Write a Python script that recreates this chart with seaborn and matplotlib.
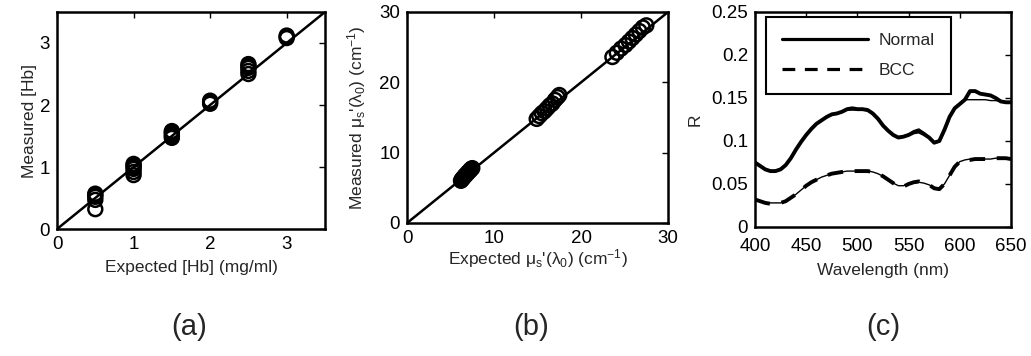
import numpy as np
import pandas as pd
import matplotlib
matplotlib.use("Agg")
import matplotlib.pyplot as plt
import seaborn as sns

# ---------------- data ----------------
# panel (a)
hb_expected = [0.5, 0.5, 0.5, 0.5, 0.5,
               1.0, 1.0, 1.0, 1.0, 1.0, 1.0,
               1.5, 1.5, 1.5, 1.5, 1.5,
               2.0, 2.0, 2.0,
               2.5, 2.5, 2.5, 2.5, 2.5,
               3.0, 3.0, 3.0]
hb_measured = [0.32, 0.47, 0.52, 0.55, 0.57,
               0.87, 0.92, 0.97, 1.00, 1.03, 1.05,
               1.47, 1.50, 1.53, 1.56, 1.58,
               2.02, 2.05, 2.07,
               2.50, 2.55, 2.60, 2.63, 2.66,
               3.08, 3.10, 3.12]
hb_line = [0.0, 3.5]

# panel (b)
mus_expected = [6.2, 6.3, 6.4, 6.5, 6.6, 6.7, 6.8, 6.9, 7.0, 7.1, 7.2, 7.3, 7.4, 7.5,
                14.9, 15.2, 15.5, 15.8, 16.1, 16.4, 16.7, 17.0, 17.3, 17.5,
                23.6, 24.1, 24.6, 25.1, 25.5, 25.9, 26.3, 26.7, 27.1, 27.5]
mus_measured = [6.0, 6.2, 6.3, 6.5, 6.6, 6.8, 6.9, 7.0, 7.2, 7.3, 7.4, 7.6, 7.7, 7.8,
                14.8, 15.2, 15.6, 15.9, 16.3, 16.7, 17.0, 17.5, 17.9, 18.2,
                23.6, 24.2, 24.8, 25.3, 25.8, 26.3, 26.8, 27.3, 27.8, 28.1]
mus_line = [0.0, 30.0]

# panel (c)
wavelength = [400, 405, 410, 415, 420, 425, 430, 435, 440, 445, 450, 455, 460, 465, 470,
              475, 480, 485, 490, 495, 500, 505, 510, 515, 520, 525, 530, 535, 540, 545,
              550, 555, 560, 565, 570, 575, 580, 585, 590, 595, 600, 605, 610, 615, 620,
              625, 630, 635, 640, 645, 650]
normal_meas = [0.075, 0.071, 0.067, 0.065, 0.065, 0.067, 0.072, 0.080, 0.090, 0.099, 0.107,
               0.114, 0.120, 0.124, 0.128, 0.131, 0.132, 0.134, 0.137, 0.138, 0.137, 0.137,
               0.136, 0.132, 0.126, 0.118, 0.112, 0.107, 0.104, 0.105, 0.107, 0.110, 0.111,
               0.108, 0.104, 0.098, 0.100, 0.113, 0.128, 0.138, 0.143, 0.148, 0.158, 0.158,
               0.155, 0.154, 0.153, 0.150, 0.146, 0.145, 0.145]
normal_fit = [0.075, 0.071, 0.067, 0.065, 0.065, 0.067, 0.072, 0.080, 0.090, 0.099, 0.107,
              0.114, 0.120, 0.124, 0.128, 0.131, 0.132, 0.134, 0.136, 0.136, 0.136, 0.136,
              0.135, 0.131, 0.125, 0.118, 0.112, 0.107, 0.105, 0.106, 0.108, 0.112, 0.114,
              0.110, 0.105, 0.099, 0.101, 0.114, 0.129, 0.139, 0.144, 0.148, 0.148, 0.148,
              0.148, 0.148, 0.147, 0.147, 0.146, 0.145, 0.145]
bcc_meas = [0.032, 0.030, 0.028, 0.027, 0.027, 0.028, 0.030, 0.034, 0.038, 0.043, 0.048,
            0.052, 0.055, 0.058, 0.060, 0.062, 0.063, 0.064, 0.065, 0.065, 0.065, 0.065,
            0.065, 0.064, 0.062, 0.059, 0.055, 0.051, 0.047, 0.047, 0.050, 0.052, 0.053,
            0.051, 0.049, 0.045, 0.044, 0.050, 0.060, 0.070, 0.076, 0.078, 0.078, 0.079,
            0.079, 0.079, 0.080, 0.080, 0.080, 0.080, 0.079]
bcc_fit = [0.032, 0.030, 0.028, 0.028, 0.028, 0.028, 0.030, 0.034, 0.038, 0.043, 0.048,
           0.052, 0.055, 0.058, 0.060, 0.062, 0.063, 0.064, 0.065, 0.065, 0.065, 0.065,
           0.065, 0.064, 0.062, 0.059, 0.055, 0.051, 0.048, 0.048, 0.050, 0.051, 0.052,
           0.051, 0.049, 0.046, 0.045, 0.050, 0.060, 0.070, 0.076, 0.078, 0.079, 0.079,
           0.079, 0.079, 0.079, 0.080, 0.080, 0.080, 0.080]

# ---------------- style ----------------
sns.set_theme(style="white")
plt.rcParams["font.family"] = ["Liberation Sans", "DejaVu Sans"]
plt.rcParams["mathtext.fontset"] = "custom"
plt.rcParams["mathtext.rm"] = "Liberation Sans"
plt.rcParams["mathtext.it"] = "Liberation Sans"
plt.rcParams["mathtext.default"] = "regular"

TICK_FS = 13.5
LABEL_FS = 12.5

fig = plt.figure(figsize=(10.31, 3.56), dpi=100)
ax_a = fig.add_axes([0.0553, 0.3567, 0.2599, 0.6096])
ax_b = fig.add_axes([0.3948, 0.3736, 0.2532, 0.5927])
ax_c = fig.add_axes([0.7323, 0.3624, 0.2483, 0.6039])


def style_axes(ax):
    for s in ax.spines.values():
        s.set_color("black")
        s.set_linewidth(1.8)
    ax.tick_params(direction="in", length=4, width=1, top=True, right=True,
                   labelsize=TICK_FS, colors="black", pad=5)
    ax.grid(False)


# (a)
sns.lineplot(x=hb_line, y=hb_line, ax=ax_a, color="black", lw=1.8)
sns.scatterplot(x=hb_expected, y=hb_measured, ax=ax_a, marker="o", s=100,
                facecolor="none", edgecolor="black", linewidth=1.8)
ax_a.set_xlim(0, 3.5)
ax_a.set_ylim(0, 3.5)
ax_a.set_xticks([0, 1, 2, 3])
ax_a.set_yticks([0, 1, 2, 3])
ax_a.set_xlabel("Expected [Hb] (mg/ml)", fontsize=LABEL_FS, labelpad=5)
ax_a.set_ylabel("Measured [Hb]", fontsize=LABEL_FS, labelpad=2)
style_axes(ax_a)

# (b)
sns.lineplot(x=mus_line, y=mus_line, ax=ax_b, color="black", lw=1.8)
sns.scatterplot(x=mus_expected, y=mus_measured, ax=ax_b, marker="o", s=100,
                facecolor="none", edgecolor="black", linewidth=1.8)
ax_b.set_xlim(0, 30)
ax_b.set_ylim(0, 30)
ax_b.set_xticks([0, 10, 20, 30])
ax_b.set_yticks([0, 10, 20, 30])
ax_b.set_xlabel(r"Expected $\mu_s$'$(\lambda_0)$ (cm$^{-1}$)", fontsize=LABEL_FS, labelpad=0)
ax_b.set_ylabel(r"Measured $\mu_s$'$(\lambda_0)$ (cm$^{-1}$)", fontsize=LABEL_FS, labelpad=8)
style_axes(ax_b)

# (c)
sns.lineplot(x=wavelength, y=normal_meas, ax=ax_c, color="black", lw=2.8,
             label="Normal")
sns.lineplot(x=wavelength, y=normal_fit, ax=ax_c, color="black", lw=1.0)
sns.lineplot(x=wavelength, y=bcc_meas, ax=ax_c, color="black", lw=2.8,
             linestyle=(0, (4, 3)), label="BCC")
sns.lineplot(x=wavelength, y=bcc_fit, ax=ax_c, color="black", lw=1.0)
ax_c.set_xlim(400, 650)
ax_c.set_ylim(0, 0.25)
ax_c.set_xticks([400, 450, 500, 550, 600, 650])
ax_c.set_yticks([0, 0.05, 0.1, 0.15, 0.2, 0.25])
ax_c.set_yticklabels(["0", "0.05", "0.1", "0.15", "0.2", "0.25"])
style_axes(ax_c)
ax_c.tick_params(axis="x", pad=8)
ax_c.set_xlabel("Wavelength (nm)", fontsize=LABEL_FS, labelpad=6)
ax_c.set_ylabel("R", fontsize=LABEL_FS, labelpad=6)
leg = ax_c.legend(loc="upper left", bbox_to_anchor=(0.043, 0.977), fontsize=12.5,
                  handlelength=5.0, frameon=True, fancybox=False, framealpha=1,
                  edgecolor="black", borderpad=0.9, labelspacing=0.9,
                  handletextpad=0.6, borderaxespad=0)
leg.get_frame().set_linewidth(1.5)
for h in leg.get_lines():
    h.set_linewidth(2.3)

# panel labels
for x, t in [(189, "(a)"), (531, "(b)"), (883, "(c)")]:
    fig.text(x / 1031, 1 - 327 / 356, t, ha="center", va="center", fontsize=21)

fig.savefig("out.png", dpi=100)
